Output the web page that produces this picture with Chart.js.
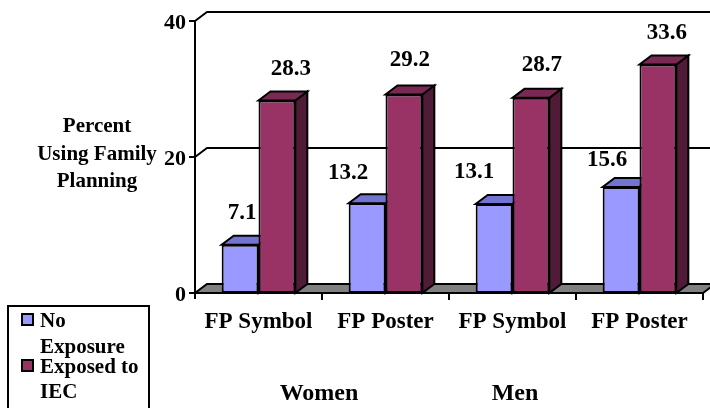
<!DOCTYPE html>
<html>
<head>
<meta charset="utf-8">
<title>Percent Using Family Planning by IEC Exposure</title>
<script src="https://cdn.jsdelivr.net/npm/chart.js@4.4.1/dist/chart.umd.min.js"></script>
<style>
  html, body { margin: 0; padding: 0; background: #ffffff; }
  canvas { display: block; }
</style>
</head>
<body>
<canvas id="chart" width="710" height="408"></canvas>
<script>
// Data
const categories = ['FP Symbol', 'FP Poster', 'FP Symbol', 'FP Poster'];
const noExposure = [7.1, 13.2, 13.1, 15.6];
const exposedToIEC = [28.3, 29.2, 28.7, 33.6];
const yTickValues = [0, 20, 40];
const groupLabels = ['Women', 'Men'];
const seriesNames = [['No', 'Exposure'], ['Exposed to', 'IEC']];
const yTitleLines = ['Percent', 'Using Family', 'Planning'];

// Styling / layout
const FONT = '"Liberation Serif", "Times New Roman", Times, serif';
const DX = 12, DY = -9;              // depth offset of the 3-D effect
const labelShiftX = [[2, -19, -20, -14], [14, 6, 11, 9]];
const labelShiftY = [[0, 2, 0, 5], [0, -2, -1, 0]];
const groupLabelX = [319, 515];

function poly(ctx, pts, fill) {
  ctx.beginPath();
  ctx.moveTo(pts[0][0], pts[0][1]);
  for (let i = 1; i < pts.length; i++) ctx.lineTo(pts[i][0], pts[i][1]);
  ctx.closePath();
  if (fill) { ctx.fillStyle = fill; ctx.fill(); }
  ctx.stroke();
}

const depthPlugin = {
  id: 'depth3d',
  beforeDatasetsDraw(chart) {
    const ctx = chart.ctx;
    const { left, right, top, bottom } = chart.chartArea;
    const y = chart.scales.y, x = chart.scales.x;
    ctx.save();
    ctx.strokeStyle = '#000';
    ctx.lineWidth = 2;
    ctx.lineJoin = 'miter';
    // back wall gridlines and side-wall diagonals
    yTickValues.forEach(v => {
      const py = y.getPixelForValue(v);
      if (v === 0) {
        poly(ctx, [[left, py], [right, py], [right + DX, py + DY], [left + DX, py + DY]], '#808080');
      } else {
        ctx.beginPath();
        ctx.moveTo(left, py);
        ctx.lineTo(left + DX, py + DY);
        ctx.lineTo(right + DX + 20, py + DY);
        ctx.stroke();
      }
      // tick mark on the value axis
      ctx.beginPath();
      ctx.moveTo(left - 6, py);
      ctx.lineTo(left, py);
      ctx.stroke();
    });
    // front value axis
    ctx.beginPath();
    ctx.moveTo(left, top);
    ctx.lineTo(left, bottom + 6);
    ctx.stroke();
    // category boundary ticks
    const n = categories.length;
    for (let i = 0; i < n; i++) {
      const bx = i < n - 1 ? (x.getPixelForValue(i) + x.getPixelForValue(i + 1)) / 2 : right;
      ctx.beginPath();
      ctx.moveTo(bx, bottom);
      ctx.lineTo(bx, bottom + 7);
      ctx.stroke();
    }
    // side and top faces of every bar, series in order; front faces follow
    chart.data.datasets.forEach((ds, di) => {
      chart.getDatasetMeta(di).data.forEach(el => {
        const p = el.getProps(['x', 'y', 'width', 'base'], true);
        const l = p.x - p.width / 2, r = p.x + p.width / 2;
        poly(ctx, [[r, p.y], [r + DX, p.y + DY], [r + DX, p.base + DY], [r, p.base]], ds.sideColor);
        poly(ctx, [[l, p.y], [r, p.y], [r + DX, p.y + DY], [l + DX, p.y + DY]], ds.topColor);
      });
    });
    ctx.restore();
  },
  afterDatasetsDraw(chart) {
    const ctx = chart.ctx;
    const { left, bottom } = chart.chartArea;
    const x = chart.scales.x, y = chart.scales.y;
    ctx.save();
    ctx.fillStyle = '#000';
    ctx.textBaseline = 'alphabetic';

    // value labels
    ctx.font = 'bold 23px ' + FONT;
    ctx.textAlign = 'center';
    chart.data.datasets.forEach((ds, di) => {
      const meta = chart.getDatasetMeta(di);
      meta.data.forEach((el, i) => {
        const cx = el.x + labelShiftX[di][i];
        const cy = el.y - 34 + labelShiftY[di][i];
        ctx.fillText(ds.data[i].toFixed(1), cx, cy + 8);
      });
    });

    // category labels
    categories.forEach((c, i) => {
      ctx.fillText(c, x.getPixelForValue(i), bottom + 35);
    });

    // group labels
    ctx.font = 'bold 24px ' + FONT;
    groupLabels.forEach((g, i) => ctx.fillText(g, groupLabelX[i], 400));

    // value-axis tick labels
    ctx.font = 'bold 22px ' + FONT;
    ctx.textAlign = 'right';
    yTickValues.forEach(v => {
      ctx.fillText(String(v), left - 9, y.getPixelForValue(v) + 8);
    });

    // value-axis title
    ctx.font = 'bold 21px ' + FONT;
    ctx.textAlign = 'center';
    const titleBase = [132, 160, 187];
    yTitleLines.forEach((t, i) => ctx.fillText(t, 97, titleBase[i]));

    // legend
    ctx.lineWidth = 2;
    ctx.strokeStyle = '#000';
    ctx.strokeRect(8, 306, 141, 110);
    ctx.textAlign = 'left';
    const swatchTop = [314, 360];
    const textBase = [[327, 353], [373, 398]];
    chart.data.datasets.forEach((ds, di) => {
      ctx.fillStyle = ds.backgroundColor;
      ctx.fillRect(22, swatchTop[di], 11, 11);
      ctx.strokeRect(22, swatchTop[di], 11, 11);
      ctx.fillStyle = '#000';
      seriesNames[di].forEach((line, li) => ctx.fillText(line, 40, textBase[di][li]));
    });
    ctx.restore();
  }
};

new Chart(document.getElementById('chart'), {
  type: 'bar',
  data: {
    labels: categories,
    datasets: [
      {
        label: seriesNames[0].join(' '),
        data: noExposure,
        backgroundColor: '#9999FF',
        topColor: '#7373D1',
        sideColor: '#4D4D99',
        borderColor: '#000000',
        borderWidth: 2,
        borderSkipped: false,
        categoryPercentage: 0.58,
        barPercentage: 1.0
      },
      {
        label: seriesNames[1].join(' '),
        data: exposedToIEC,
        backgroundColor: '#993366',
        topColor: '#7A2952',
        sideColor: '#4F1B36',
        borderColor: '#000000',
        borderWidth: 2,
        borderSkipped: false,
        categoryPercentage: 0.58,
        barPercentage: 1.0
      }
    ]
  },
  options: {
    responsive: false,
    animation: false,
    devicePixelRatio: 1,
    layout: { padding: { left: 195, right: 7, top: 21, bottom: 115 } },
    scales: {
      x: { display: false, offset: true },
      y: { display: false, min: 0, max: 40, ticks: { stepSize: 20 } }
    },
    plugins: {
      legend: { display: false },
      tooltip: { enabled: false }
    }
  },
  plugins: [depthPlugin]
});
</script>
</body>
</html>
